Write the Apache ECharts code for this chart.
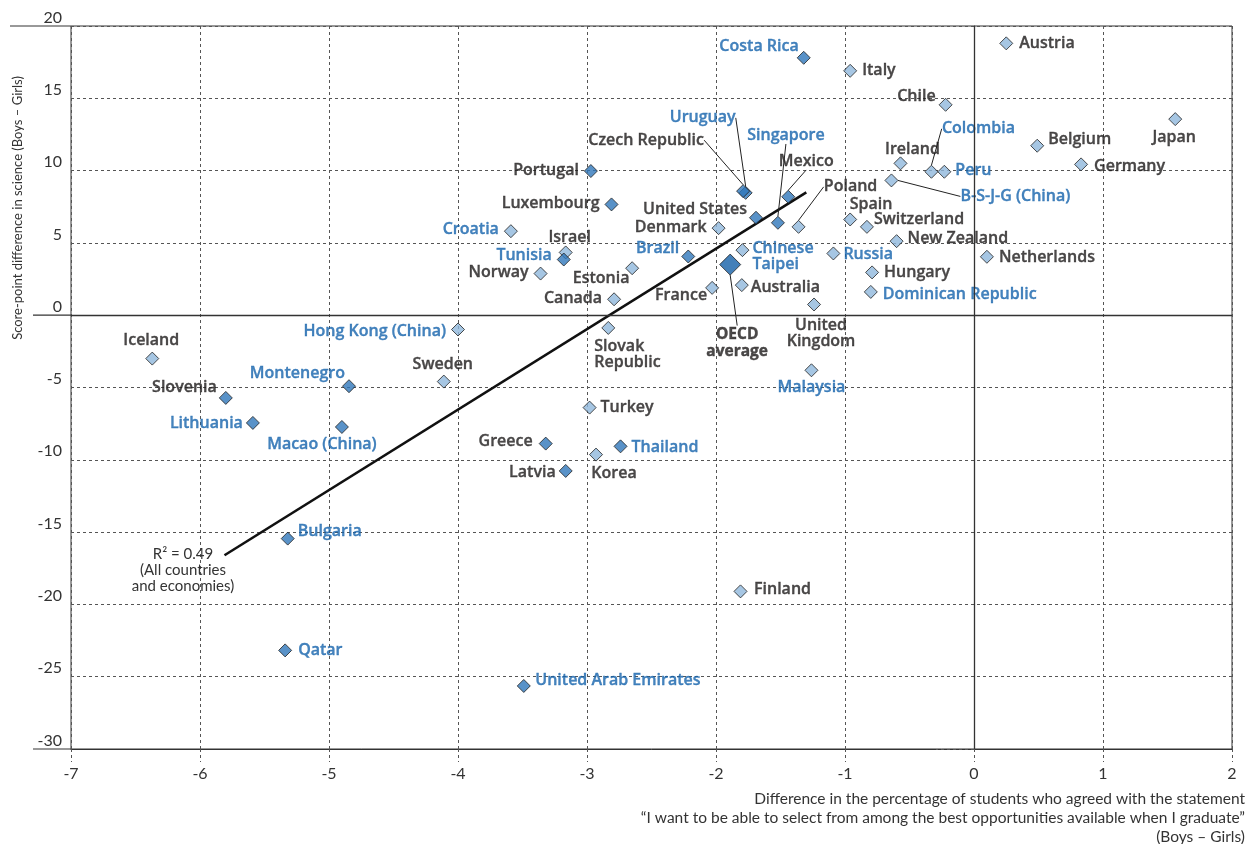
<!DOCTYPE html>
<html><head><meta charset="utf-8">
<script src="https://cdn.jsdelivr.net/npm/echarts@6/dist/echarts.min.js"></script>
<style>html,body{margin:0;padding:0;background:#fff}#c{width:1253px;height:844px}</style>
</head><body><div id="c"></div>
<script>
// ---- data ----
const countries = ['Austria','Italy','Chile','Japan','Belgium','Germany','Ireland','Colombia','Peru','B-S-J-G (China)',
 'Spain','Switzerland','New Zealand','Russia','Netherlands','Hungary','Dominican Republic','Poland','Mexico','Singapore',
 'Uruguay','Czech Republic','United States','Costa Rica','Portugal','Luxembourg','Croatia','Israel','Tunisia','Norway',
 'Estonia','Canada','Brazil','Denmark','France','Chinese Taipei','Australia','United Kingdom','Malaysia','Slovak Republic',
 'Sweden','Hong Kong (China)','Turkey','Greece','Thailand','Korea','Latvia','Iceland','Slovenia','Lithuania',
 'Montenegro','Macao (China)','Bulgaria','Qatar','United Arab Emirates','Finland'];
const xValues = [0.25,-0.96,-0.22,1.56,0.49,0.83,-0.57,-0.33,-0.23,-0.64,
 -0.96,-0.83,-0.60,-1.09,0.10,-0.79,-0.80,-1.36,-1.44,-1.52,
 -1.77,-1.79,-1.69,-1.32,-2.97,-2.81,-3.59,-3.165,-3.18,-3.36,
 -2.65,-2.79,-2.215,-1.98,-2.03,-1.795,-1.80,-1.24,-1.26,-2.835,
 -4.11,-4.00,-2.98,-3.32,-2.74,-2.93,-3.165,-6.37,-5.80,-5.59,
 -4.845,-4.90,-5.32,-5.34,-3.49,-1.81];
const yValues = [18.8,16.9,14.55,13.56,11.72,10.43,10.5,9.92,9.92,9.32,
 6.62,6.11,5.12,4.27,4.04,2.96,1.61,6.11,8.19,6.39,
 8.46,8.58,6.74,17.8,9.97,7.66,5.81,4.34,3.85,2.88,
 3.25,1.1,4.06,6.02,1.89,4.5,2.08,0.74,-3.81,-0.88,
 -4.59,-0.99,-6.39,-8.88,-9.07,-9.64,-10.77,-3.0,-5.72,-7.45,
 -4.91,-7.73,-15.45,-23.18,-25.64,-19.1];
// 1 = partner country/economy (blue label), 0 = OECD country (black label)
const partner = [0,0,0,0,0,0,0,1,1,1, 0,0,0,1,0,0,1,0,0,1, 1,0,0,1,0,0,1,0,1,0,
 0,0,1,0,0,1,0,0,1,0, 0,1,0,0,1,0,0,0,0,1, 1,1,1,1,1,0];
// 1 = dark marker, 0 = light marker
const significant = [0,0,0,0,0,0,0,0,0,0, 0,0,0,0,0,0,0,0,1,1, 1,1,1,1,1,1,0,0,1,0,
 0,0,1,0,0,0,0,0,0,0, 0,0,0,1,1,0,1,0,1,1, 1,1,1,1,1,0];
const oecdAverage = [-1.89, 3.5];
const regressionLine = [[-5.81, -16.6], [-1.30, 8.49]];
const r2Text = 'R\u00B2 = 0.49\n(All countries\nand economies)';
const yAxisTitle = 'Score-point difference in science (Boys \u2013 Girls)';
const xAxisTitle = 'Difference in the percentage of students who agreed with the statement\n\u201CI want to be able to select from among the best opportunities available when I graduate\u201D\n(Boys \u2013 Girls)';

// ---- label placement (style only) ----
const placement = {
 'Austria':['right',1,0],'Italy':['right',0,0],'Chile':['left',2,-8],'Japan':['inside',-1,18],
 'Belgium':['right',-1,-6],'Germany':['right',1,2],'Ireland':['inside',12,-14],'Colombia':['inside',47,-43,true],
 'Peru':['right',-1,-1],'B-S-J-G (China)':['inside',124,16,true],'Spain':['inside',21,-15],'Switzerland':['right',-5,-7],
 'New Zealand':['right',-1,-3],'Russia':['right',-2,1],'Netherlands':['right',0,1],'Hungary':['right',0,0],
 'Dominican Republic':['right',0,3],'Poland':['inside',52,-40,true],'Mexico':['inside',18,-35,true],
 'Singapore':['inside',8,-87,true],'Uruguay':['inside',-43,-75,true],'Czech Republic':['inside',-97,-51,true],
 'United States':['left',3,-8],'Costa Rica':['left',7,-11],'Portugal':['left',0,-1],'Luxembourg':['left',0,-1],
 'Croatia':['left',0,-2],'Israel':['inside',4,-15],'Tunisia':['left',0,-4],'Norway':['left',0,-1],
 'Estonia':['inside',-31,10],'Canada':['left',0,-1],'Brazil':['left',3,-8],'Denmark':['left',0,-1],
 'France':['left',7,8],'Chinese Taipei':['right',-2,6],'Australia':['right',-3,2],'United Kingdom':['inside',7,29],
 'Malaysia':['inside',0,17],'Slovak Republic':['inside',-14,27,false,'left'],'Sweden':['inside',-1,-17],
 'Hong Kong (China)':['left',0,2],'Turkey':['right',-1,0],'Greece':['left',-1,-2],'Thailand':['right',-1,1],
 'Korea':['inside',18,19],'Latvia':['left',2,2],'Iceland':['inside',-1,-18],'Slovenia':['left',3,-10],
 'Lithuania':['left',2,1],'Montenegro':['left',8,-13],'Macao (China)':['inside',-20,17],'Bulgaria':['right',-2,-7],
 'Qatar':['right',1,0],'United Arab Emirates':['right',-0.5,-6],'Finland':['right',1.5,-2]
};
const wrapNames = ['Chinese Taipei','United Kingdom','Slovak Republic'];

const BLUE='#1764ac', BLACK='#1e1b1c', DARK='#2f77ba', LIGHT='#90b8dc', GRIDC='#555';
const FONT='Lato', LFONT='Open Sans';

const points = countries.map((n,i)=>{
  const p = placement[n] || ['right',0,0];
  const c = partner[i] ? BLUE : BLACK;
  const item = {
    name:n, value:[xValues[i], yValues[i]],
    itemStyle:{color: significant[i] ? DARK : LIGHT},
    label:{position:p[0], offset:[p[1],p[2]], color:c, textBorderColor:c, textBorderWidth:0.35,
           formatter: wrapNames.indexOf(n)>=0 ? n.replace(' ','\n') : n}
  };
  if (p[4]) item.label.align = p[4];
  if (p[3]) item.labelLine = {show:true, lineStyle:{color:'#222', width:1}};
  return item;
});

const chart = echarts.init(document.getElementById('c'));
const dash = {type:[3,3], color:GRIDC, width:1};
chart.setOption({
  animation:false,
  grid:{left:71, right:21, top:26, bottom:95, show:true, borderColor:'#333', borderWidth:1, containLabel:false, outerBoundsMode:'none'},
  xAxis:{type:'value', min:-7, max:2, interval:1,
    axisLine:{onZero:false, lineStyle:{color:'#333', width:1}},
    axisTick:{show:true, length:13, lineStyle:dash},
    axisLabel:{margin:17, fontFamily:FONT, fontSize:16, color:'#333'},
    splitLine:{show:true, lineStyle:dash}},
  yAxis:{type:'value', min:-30, max:20, interval:5,
    axisLine:{show:true, lineStyle:{color:'#333', width:1}},
    axisTick:{show:true, length:38, lineStyle:dash},
    axisLabel:{margin:9, verticalAlign:'bottom', fontFamily:FONT, fontSize:16, color:'#333', lineHeight:17},
    splitLine:{show:true, lineStyle:dash}},
  series:[
    {type:'line', data:regressionLine, showSymbol:false, symbol:'none', z:2, silent:true,
     lineStyle:{color:'#111', width:2.6}},
    {type:'scatter', symbol:'diamond', symbolSize:13, z:3, data:points,
     itemStyle:{borderColor:'#222', borderWidth:1},
     label:{show:true, fontFamily:LFONT, fontWeight:600, fontSize:16, lineHeight:16},
     labelLine:{show:false},
     markLine:{silent:true, symbol:['none','none'], label:{show:false}, animation:false,
       lineStyle:{type:'solid', color:'#333', width:1.3},
       data:[{xAxis:0},{yAxis:0}]}},
    {type:'scatter', symbol:'diamond', symbolSize:21, z:4,
     data:[{name:'OECD average', value:oecdAverage,
       label:{show:true, position:'inside', offset:[7,78], formatter:'OECD\naverage', color:BLACK,
              fontFamily:LFONT, fontWeight:700, fontSize:15.5, lineHeight:17,
              textBorderColor:BLACK, textBorderWidth:0.4},
       labelLine:{show:true, lineStyle:{color:'#222', width:1}}}],
     itemStyle:{color:'#1560a8', borderColor:'#222', borderWidth:1}}
  ]
});

const y0 = chart.convertToPixel({yAxisIndex:0}, 0);
const yb = chart.convertToPixel({yAxisIndex:0}, -30);
const yt = chart.convertToPixel({yAxisIndex:0}, 20);
const xl = chart.convertToPixel({xAxisIndex:0}, -7);
chart.setOption({graphic:[
  {type:'line', shape:{x1:33, y1:y0, x2:xl, y2:y0}, style:{stroke:'#333', lineWidth:1.3}, silent:true},
  {type:'line', shape:{x1:33, y1:yb, x2:xl, y2:yb}, style:{stroke:'#333', lineWidth:1}, silent:true},
  {type:'line', shape:{x1:10, y1:yt, x2:xl, y2:yt}, style:{stroke:'#333', lineWidth:1}, silent:true},
  {type:'text', x:18, y:208, rotation:Math.PI/2, silent:true,
   style:{text:yAxisTitle, font:'13px Lato', fill:'#333', align:'center', verticalAlign:'middle', textAlign:'center', textVerticalAlign:'middle'}},
  {type:'text', x:1245, y:789, silent:true,
   style:{text:xAxisTitle, font:'15.5px Lato', fill:'#333', align:'right', verticalAlign:'top', textAlign:'right', textVerticalAlign:'top', lineHeight:19}},
  {type:'text', x:183, y:570, silent:true,
   style:{text:r2Text, font:'15px Lato', fill:'#333', align:'center', verticalAlign:'middle', textAlign:'center', textVerticalAlign:'middle', lineHeight:16}}
]});
</script></body></html>
